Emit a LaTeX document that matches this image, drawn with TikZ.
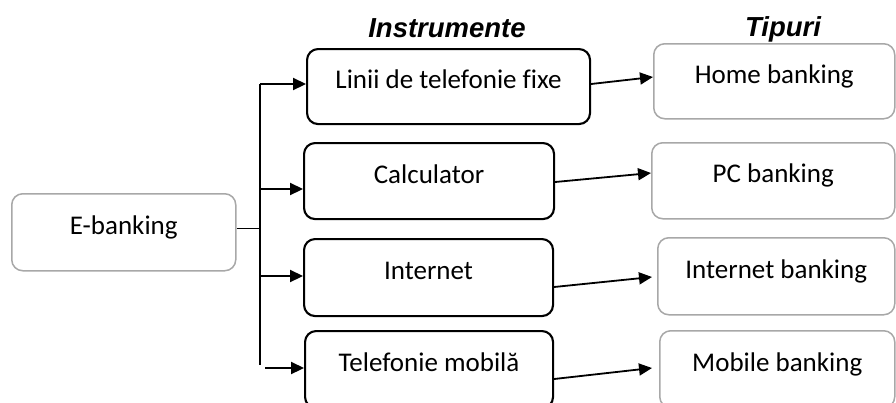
\documentclass[tikz,border=0pt]{standalone}
\usepackage{fontspec}
\setmainfont[Ligatures=NoCommon]{Carlito}
\newfontfamily\headfont{Liberation Sans}
\usetikzlibrary{arrows.meta,calc}

\definecolor{boxgray}{HTML}{A8A8A8}

\tikzset{
  basebox/.style={rounded corners=11pt, anchor=north west, inner sep=0pt,
    font=\fontsize{27}{32}\selectfont, text height=15pt, text depth=11pt},
  instbox/.style={basebox, draw=black, line width=2.1pt},
  typebox/.style={basebox, draw=boxgray, line width=1.5pt},
  heading/.style={anchor=base, font=\headfont\bfseries\itshape\fontsize{27.5}{32}\selectfont},
  arr/.style={line width=2.2pt, -{Triangle[length=13pt,width=12pt]}},
  tline/.style={line width=1.8pt, -{Triangle[length=13pt,width=12pt]}},
}

% box with its size given in pixels: #1 name, #2 style, #3 left, #4 top, #5 width, #6 height, #7 text
\newcommand{\bankbox}[7]{%
  \node[#2, minimum width=#5pt, minimum height=#6pt] (#1) at (#3,#4) {#7};}

\begin{document}
\begin{tikzpicture}[x=1pt, y=-1pt]
\useasboundingbox (0,0) rectangle (896,402);
\clip (0,0) rectangle (896,402);

% headings
\node[heading] (hinst) at (447,37) {Instrumente};
\node[heading] (htip) at (783,36) {Tipuri};

% root
\bankbox{ebank}{typebox}{11}{193}{224}{77}{E-banking}

% instruments
\bankbox{linii}{instbox}{306}{48}{283}{75}{Linii de telefonie fixe}
\bankbox{calc}{instbox}{303}{142}{250}{76}{Calculator}
\bankbox{inet}{instbox}{303}{238}{249}{77}{Internet}
\bankbox{mob}{instbox}{304}{330}{248}{77}{Telefonie mobilă}

% types
\bankbox{home}{typebox}{653}{43}{241}{75}{Home banking}
\bankbox{pc}{typebox}{651}{142}{243}{76}{PC banking}
\bankbox{ib}{typebox}{657}{237}{237}{77}{Internet banking}
\bankbox{mb}{typebox}{659}{330}{235}{77}{Mobile banking}

% trunk from the root to the instruments
\coordinate (ttop) at (260,84);
\coordinate (tbot) at (260,365);
\coordinate (tjoin) at (260,228);
\draw[line width=1.2pt] (ttop) -- (tbot);
\draw[line width=1pt] (ebank.east |- tjoin) -- (tjoin);

\coordinate (b1) at (260,84);
\coordinate (b2) at (260,189);
\coordinate (b3) at (260,276);
\coordinate (b4) at (265,368);
\draw[arr] (b1) -- (linii.west |- b1);
\draw[arr] (b2) -- (calc.west |- b2);
\draw[arr] (b3) -- (inet.west |- b3);
\draw[arr] (b4) -- (mob.west |- b4);

% instruments to types
\coordinate (s1) at (589,84);  \coordinate (e1) at (653,77);
\coordinate (s2) at (553,182); \coordinate (e2) at (651,173);
\coordinate (s3) at (552,287); \coordinate (e3) at (652,277);
\coordinate (s4) at (552,379); \coordinate (e4) at (652,368);
\draw[tline] (linii.east |- s1) -- (e1);
\draw[tline] (calc.east |- s2) -- (e2);
\draw[tline] (inet.east |- s3) -- (e3);
\draw[tline] (mob.east |- s4) -- (e4);
\end{tikzpicture}
\end{document}
